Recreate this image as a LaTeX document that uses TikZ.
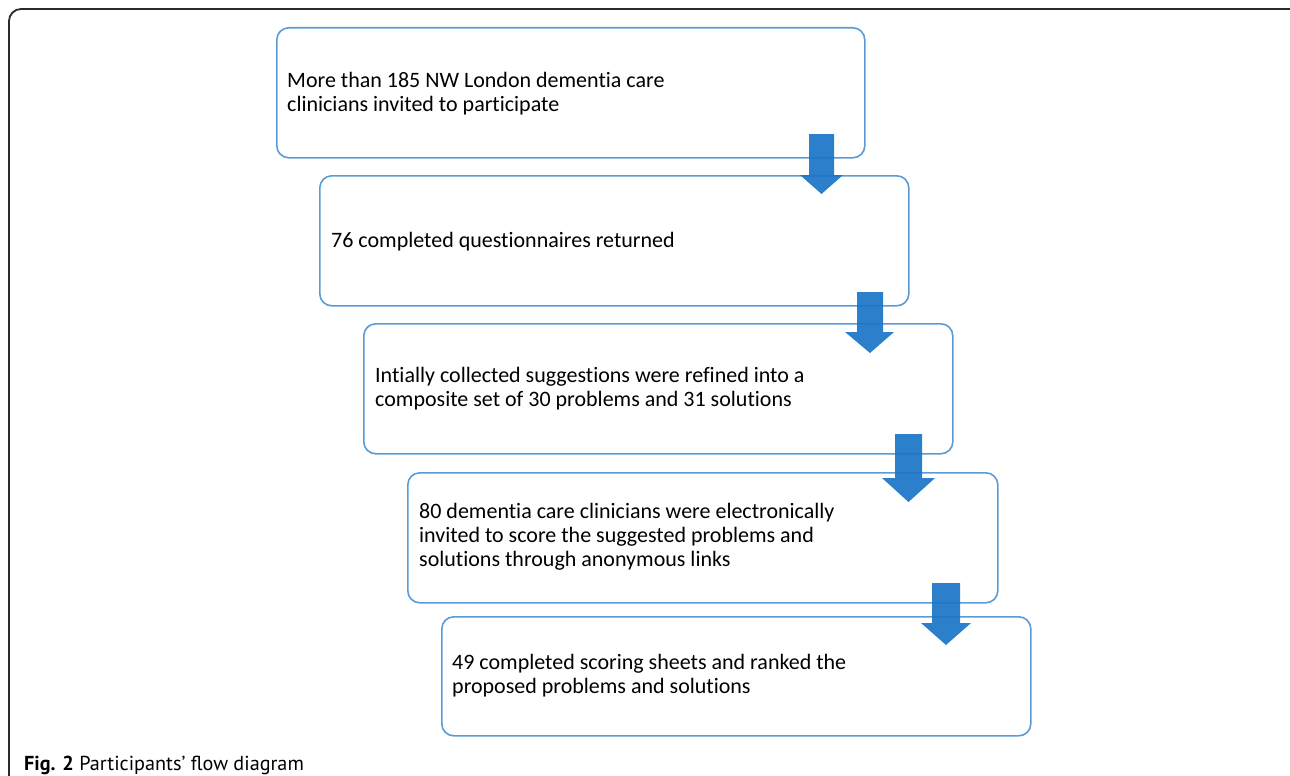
\documentclass[tikz,border=0pt]{standalone}
\usepackage{fontspec}
\setmainfont{Carlito}[Ligatures=NoCommon]
\newfontfamily\capfont{PT Sans}
\definecolor{boxline}{HTML}{5B9BD5}
\definecolor{arrowblue}{HTML}{1A75C7}
\definecolor{framecol}{HTML}{2A2A2A}
\begin{document}
\begin{tikzpicture}[x=1pt,y=-1pt,
  flowbox/.style={draw=boxline, line width=1.6pt, rounded corners=12pt, anchor=north west, inner sep=0pt},
  txt/.style={anchor=base west, align=left, inner sep=0pt, font=\fontsize{22}{24}\selectfont},
  blockarrow/.style={fill=arrowblue, fill opacity=0.92, draw=none}]
\useasboundingbox (0,0) rectangle (1290,776);
\begin{scope}
\clip (0,0) rectangle (1290,776);
\draw[framecol, line width=1.8pt, rounded corners=12pt] (9,800) -- (9,9) -- (1302,9) -- (1302,800);
\end{scope}
% boxes
\node[flowbox, minimum width=588pt, minimum height=130pt] (b1) at (276,27) {};
\node[flowbox, minimum width=589pt, minimum height=130pt] (b2) at (319,175) {};
\node[flowbox, minimum width=589pt, minimum height=130pt] (b3) at (363,323) {};
\node[flowbox, minimum width=590pt, minimum height=130pt] (b4) at (407,472) {};
\node[flowbox, minimum width=589pt, minimum height=119pt] (b5) at (441,616) {};
% texts (anchor = baseline of last line)
\node[txt] (t1) at (287,111) {More than 185 NW London dementia care\\clinicians invited to participate};
\node[txt] (t2) at (331,247) {76 completed questionnaires returned};
\node[txt] (t3) at (375,406) {Intially collected suggestions were refined into a\\composite set of 30 problems and 31 solutions};
\node[txt] (t4) at (419,566) {80 dementia care clinicians were electronically\\invited to score the suggested problems and\\solutions through anonymous links};
\node[txt] (t5) at (452,693) {49 completed scoring sheets and ranked the\\proposed problems and solutions};
% block arrows
\fill[blockarrow] (809,134) -- (834,134) -- (834,175) -- (843,175) -- (821.5,194) -- (800,175) -- (809,175) -- cycle;
\fill[blockarrow] (857,292) -- (883,292) -- (883,332) -- (894,332) -- (870,353) -- (845,332) -- (857,332) -- cycle;
\fill[blockarrow] (895,434) -- (922,434) -- (922,478) -- (935,478) -- (908.5,502) -- (882,478) -- (895,478) -- cycle;
\fill[blockarrow] (932,583) -- (960,583) -- (960,623) -- (971,623) -- (946,645) -- (921,623) -- (932,623) -- cycle;
% caption
\node[anchor=base west, inner sep=0pt, font=\capfont\fontsize{20.2}{22}\selectfont] (cap) at (24,770) {\textbf{Fig. 2} Participants’ flow diagram};
\end{tikzpicture}
\end{document}
